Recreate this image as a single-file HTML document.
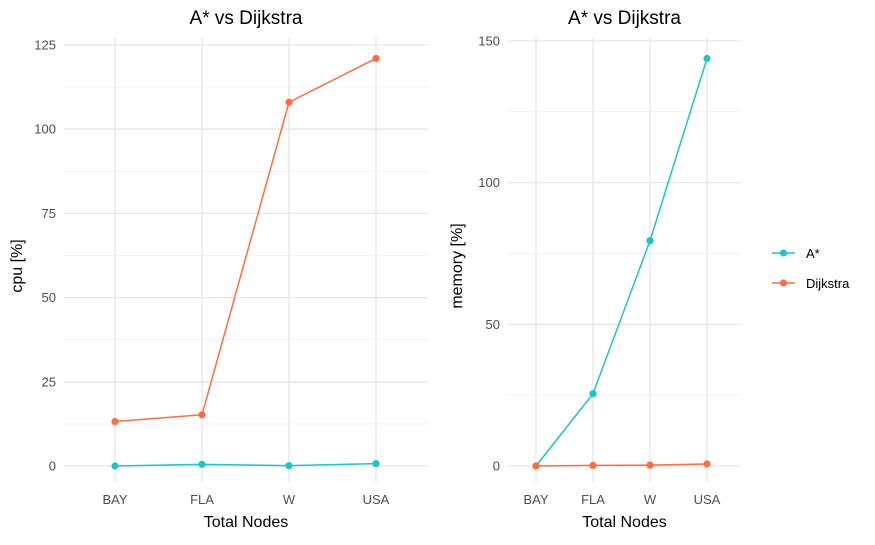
<!DOCTYPE html>
<html><head><meta charset="utf-8"><style>
body{margin:0;background:#fff;font-family:"Liberation Sans",sans-serif}
svg text{font-family:"Liberation Sans",sans-serif}
</style></head><body>
<svg id="c" width="875" height="540" xmlns="http://www.w3.org/2000/svg"></svg>
<script>
const categories=["BAY","FLA","W","USA"];
const cpuAstar=[0,0.5,0.1,0.7];
const cpuDijkstra=[13.2,15.2,108,121];
const memAstar=[0,25.5,79.5,143.8];
const memDijkstra=[0,0.2,0.3,0.7];
const cpuTicks=[0,25,50,75,100,125];
const memTicks=[0,50,100,150];
const CA="#1cc5c8",CD="#ff6c40";
const svg=document.getElementById('c');
const NS="http://www.w3.org/2000/svg";
function mk(t,a,p){const e=document.createElementNS(NS,t);for(const k in a)e.setAttribute(k,a[k]);(p||svg).appendChild(e);return e;}
function panel(name,x0,x1,xs,y0px,pxPer,ticks,minor,series,ylab,ytitleX){
  const g=mk('g',{});
  
  
  const yf=v=>y0px-v*pxPer;
  const xf=i=>xs[0]+i*(xs[1]-xs[0]);
  const top=38,bot=482;
  minor.forEach(v=>{const l=mk('line',{x1:x0,x2:x1,y1:yf(v),y2:yf(v),stroke:'#ebebeb','stroke-width':0.6},g);});
  ticks.forEach(v=>{const l=mk('line',{x1:x0,x2:x1,y1:yf(v),y2:yf(v),stroke:'#e6e6e6','stroke-width':1.3},g);
    const t=mk('text',{x:x0-8,y:yf(v)+4.5,'text-anchor':'end','font-size':13,fill:'#4d4d4d'},g);t.textContent=v;});
  categories.forEach((c,i)=>{const l=mk('line',{x1:xf(i),x2:xf(i),y1:top,y2:bot,stroke:'#e6e6e6','stroke-width':1.3},g);
    const t=mk('text',{x:xf(i),y:504,'text-anchor':'middle','font-size':13,fill:'#4d4d4d'},g);t.textContent=c;});
  series.forEach(([vals,col,sn])=>{
    const pl=mk('polyline',{points:vals.map((v,i)=>xf(i)+','+yf(v)).join(' '),fill:'none',stroke:col,'stroke-width':1.5},g);
    
    vals.forEach((v,i)=>{const c=mk('circle',{cx:xf(i),cy:yf(v),r:3.6,fill:col},g);});
  });
  const tt=mk('text',{x:(x0+x1)/2,y:24,'text-anchor':'middle','font-size':19,fill:'#000'},g);tt.textContent='A* vs Dijkstra';
  const xt=mk('text',{x:(x0+x1)/2,y:527,'text-anchor':'middle','font-size':16,fill:'#000'},g);xt.textContent='Total Nodes';
  const yt=mk('text',{x:ytitleX,y:(top+bot)/2+6,'text-anchor':'middle','font-size':16,fill:'#000',transform:`rotate(-90 ${ytitleX} ${(top+bot)/2+6})`},g);yt.textContent=ylab;
}
panel('cpu-panel',64,428,[115,202],466,84.2/25,cpuTicks,[12.5,37.5,62.5,87.5,112.5],[[cpuAstar,CA,'astar'],[cpuDijkstra,CD,'dijkstra']],'cpu [%]',22);
panel('memory-panel',508,741,[536,593],466,141.7/50,memTicks,[25,75,125],[[memAstar,CA,'astar'],[memDijkstra,CD,'dijkstra']],'memory [%]',462);
[[CA,'A*',253],[CD,'Dijkstra',283]].forEach(([col,lab,y])=>{
  const g=mk('g',{});
  
  
  mk('line',{x1:772,x2:795,y1:y,y2:y,stroke:col,'stroke-width':1.5},g);
  mk('circle',{cx:783.5,cy:y,r:3.6,fill:col},g);
  const t=mk('text',{x:806,y:y+5,'font-size':13,fill:'#000'},g);t.textContent=lab;
});
</script>
</body></html>
